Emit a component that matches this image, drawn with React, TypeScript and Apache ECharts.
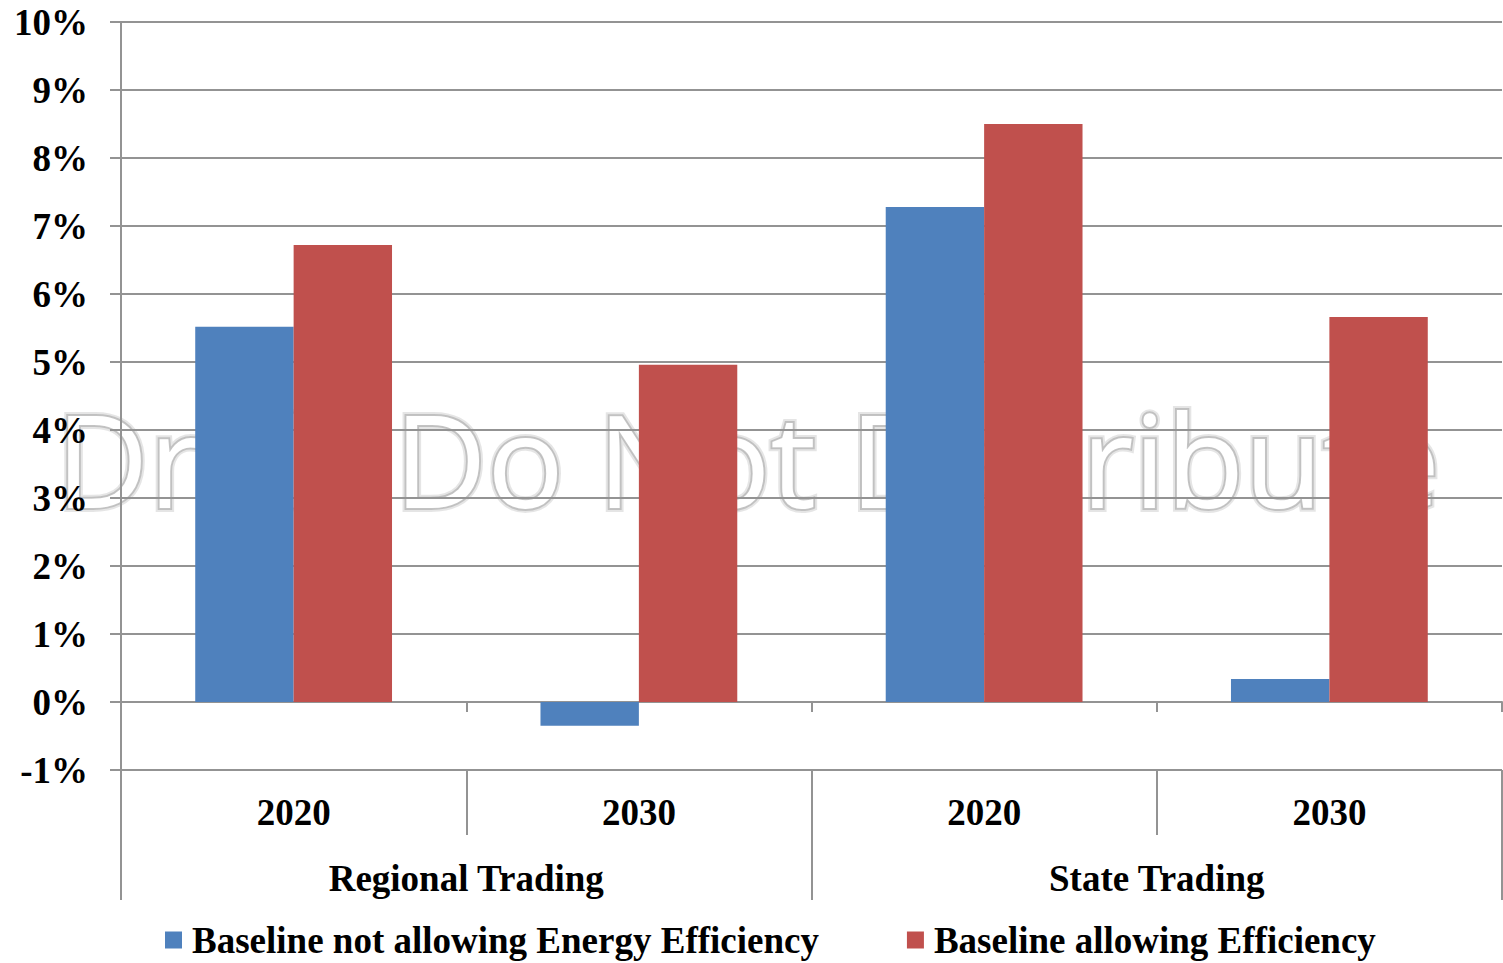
import React, { useEffect, useRef } from 'react';
import * as echarts from 'echarts';

const years = ['2020', '2030', '2020', '2030'];
const groups = ['Regional Trading', 'State Trading'];
const seriesNames = ['Baseline not allowing Energy Efficiency', 'Baseline allowing Efficiency'];
const notAllowing = [5.52, -0.35, 7.28, 0.34];
const allowing = [6.72, 4.96, 8.5, 5.66];
const yMin = -1;
const yMax = 10;
const yStep = 1;
const watermark = 'Draft Do Not Distribute';

const GRAY = '#939393';
const FONT = '"Liberation Serif", "Times New Roman", serif';

export default function App() {
  const ref = useRef<HTMLDivElement>(null);
  useEffect(() => {
    document.body.style.margin = '0';
    const chart = echarts.init(ref.current!, null, { renderer: 'svg' });
    const keys = years.map((y, i) => groups[i < 2 ? 0 : 1] + '|' + y);
    const labelStyle = { fontFamily: FONT, fontWeight: 'bold' as const, fontSize: 37, color: '#000' };
    const wmBase = {
      text: watermark,
      fontFamily: '"Open Sans", "Noto Sans", sans-serif',
      fontSize: 128,
      align: 'center',
      verticalAlign: 'middle',
    };
    chart.setOption({
      animation: false,
      backgroundColor: '#fff',
      grid: { left: 121, right: 1, top: 22, bottom: 193, outerBoundsMode: 'none' },
      graphic: [
        {
          type: 'text',
          z: -12,
          x: 748,
          y: 458,
          silent: true,
          style: { ...wmBase, fill: '#ffffff', stroke: 'rgba(0,0,0,0.10)', lineWidth: 8 },
        },
        {
          type: 'text',
          z: -11,
          x: 748,
          y: 458,
          silent: true,
          style: { ...wmBase, fill: '#ffffff', stroke: 'rgba(0,0,0,0.16)', lineWidth: 4 },
        },
        {
          type: 'text',
          z: -10,
          x: 748,
          y: 458,
          silent: true,
          style: { ...wmBase, fill: '#ffffff', stroke: '#c4c4c4', lineWidth: 1.5 },
        },
      ],
      legend: {
        left: 160,
        top: 915,
        icon: 'rect',
        itemWidth: 17,
        itemHeight: 17,
        itemGap: 88,
        data: seriesNames,
        textStyle: { ...labelStyle, lineHeight: 40, padding: [0, 0, 0, 5] },
      },
      xAxis: [
        {
          type: 'category',
          data: keys,
          axisLine: { onZero: true, lineStyle: { color: GRAY, width: 2 } },
          axisTick: { show: true, length: 10, lineStyle: { color: GRAY, width: 2 } },
          axisLabel: { show: false },
          splitLine: { show: false },
        },
        {
          type: 'category',
          data: keys,
          position: 'bottom',
          axisLine: { show: false, onZero: false },
          axisTick: { show: true, length: 65, lineStyle: { color: GRAY, width: 2 } },
          axisLabel: {
            ...labelStyle,
            margin: 24,
            formatter: (v: string) => v.split('|')[1],
          },
        },
        {
          type: 'category',
          data: groups,
          position: 'bottom',
          axisLine: { show: false, onZero: false },
          axisTick: { show: true, length: 130, lineStyle: { color: GRAY, width: 2 } },
          axisLabel: { ...labelStyle, margin: 90 },
        },
      ],
      yAxis: {
        type: 'value',
        min: yMin,
        max: yMax,
        interval: yStep,
        axisLine: { show: true, lineStyle: { color: GRAY, width: 2 } },
        axisTick: { show: true, length: 11, lineStyle: { color: GRAY, width: 2 } },
        splitLine: { show: true, lineStyle: { color: GRAY, width: 2 } },
        axisLabel: { ...labelStyle, margin: 33, formatter: '{value}%' },
      },
      series: [
        {
          name: seriesNames[0],
          type: 'bar',
          xAxisIndex: 0,
          data: notAllowing,
          barGap: '0%',
          barCategoryGap: '43%',
          itemStyle: { color: '#4F81BD' },
        },
        {
          name: seriesNames[1],
          type: 'bar',
          xAxisIndex: 0,
          data: allowing,
          barGap: '0%',
          barCategoryGap: '43%',
          itemStyle: { color: '#C0504D' },
        },
      ],
    });
    return () => chart.dispose();
  }, []);
  return <div ref={ref} style={{ width: 1503, height: 963 }} />;
}
